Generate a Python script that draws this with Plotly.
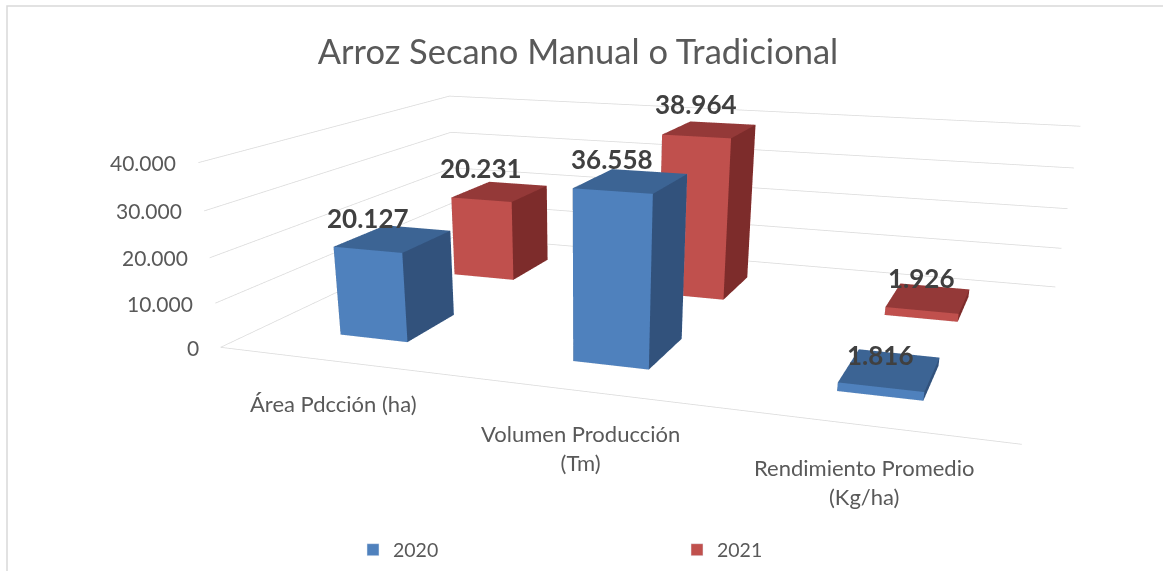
import plotly.graph_objects as go

# ---------------- data ----------------
categories = ["Área Pdcción (ha)", "Volumen Producción<br>(Tm)", "Rendimiento Promedio<br>(Kg/ha)"]
series_names = ["2020", "2021"]
values_2020 = [20127, 36558, 1816]
values_2021 = [20231, 38964, 1926]
tick_vals = [0, 10000, 20000, 30000, 40000]
tick_text = ["0", "10.000", "20.000", "30.000", "40.000"]

# ---------------- layout constants ----------------
W = 1163
HF = 1103  # tall canvas -> narrower perspective; only the top 571 px are shown
CAM_EYE = dict(x=2.2590, y=-7.5292, z=1.6741)
CAM_CENTER = dict(x=0.3881, y=-2.5393, z=-0.8758)
ASPECT = dict(x=4.2846, y=3.0280, z=1)

x_pos = [0, 1, 2]      # category slots
y_pos = [0, 1]         # series slots (depth)
hw, hd = 0.15, 0.2     # half width / half depth of a column

FONT = "Lato"
COLORS = {
    "2020": ("#4F81BD", "#32527C", "#3C6494"),
    "2021": ("#C0504D", "#7D2C2B", "#943938"),
}


def box_mesh(xs, y0, heights, c_front, c_side, c_top, name):
    X, Y, Z, I, J, K, FC = [], [], [], [], [], [], []
    for x0, h in zip(xs, heights):
        b = len(X)
        for zz in [0, h]:
            for yy in [y0 - hd, y0 + hd]:
                for xx in [x0 - hw, x0 + hw]:
                    X.append(xx); Y.append(yy); Z.append(zz)
        v = lambda ix, iy, iz: b + iz * 4 + iy * 2 + ix
        quads = [
            ((0, 0, 0), (1, 0, 0), (1, 0, 1), (0, 0, 1), c_front),
            ((0, 1, 0), (1, 1, 0), (1, 1, 1), (0, 1, 1), c_front),
            ((0, 0, 0), (0, 1, 0), (0, 1, 1), (0, 0, 1), c_side),
            ((1, 0, 0), (1, 1, 0), (1, 1, 1), (1, 0, 1), c_side),
            ((0, 0, 0), (1, 0, 0), (1, 1, 0), (0, 1, 0), c_top),
            ((0, 0, 1), (1, 0, 1), (1, 1, 1), (0, 1, 1), c_top),
        ]
        for a, bb, c, d, col in quads:
            A_, B_, C_, D_ = v(*a), v(*bb), v(*c), v(*d)
            I += [A_, A_]; J += [B_, C_]; K += [C_, D_]; FC += [col, col]
    return go.Mesh3d(x=X, y=Y, z=Z, i=I, j=J, k=K, facecolor=FC, flatshading=True,
                     lighting=dict(ambient=1, diffuse=0, specular=0, roughness=1, fresnel=0),
                     hoverinfo="skip", showlegend=False, name=name)


fig = go.Figure()
for name, yi, vals in zip(series_names, y_pos, [values_2020, values_2021]):
    fig.add_trace(box_mesh(x_pos, yi, vals, *COLORS[name], name))
# legend entries
for name in series_names:
    fig.add_trace(go.Bar(x=[None], y=[None], name=name, marker_color=COLORS[name][0]))


def fmt(v):
    return f"{v:,}".replace(",", ".")


ann = []
for yi, vals in zip(y_pos, [values_2020, values_2021]):
    for xi, v in zip(x_pos, vals):
        ann.append(dict(x=xi, y=yi - hd, z=v, text="<b>" + fmt(v) + "</b>", showarrow=False,
                        yanchor="bottom", yshift=14, font=dict(size=26, color="#404040", family=FONT)))
for xi, c in zip(x_pos, categories):
    ann.append(dict(x=xi, y=-0.5, z=0, text=c, showarrow=False, yanchor="top", yshift=-27,
                    font=dict(size=22, color="#595959", family=FONT)))
for tv, tt in zip(tick_vals, tick_text):
    ann.append(dict(x=-0.5, y=-0.5, z=tv, text=tt, showarrow=False, xanchor="right", xshift=-20,
                    yanchor="middle", font=dict(size=21, color="#595959", family=FONT)))

ax_common = dict(showbackground=False, showspikes=False, title=dict(text=""), zeroline=False)
fig.update_layout(
    width=W, height=HF, margin=dict(l=0, r=0, t=0, b=0),
    paper_bgcolor="white", plot_bgcolor="white", hovermode=False,
    title=dict(text="Arroz Secano Manual o Tradicional", x=0.497, xanchor="center",
               yref="container", y=1 - 52 / HF, yanchor="middle",
               font=dict(size=34.5, color="#595959", family=FONT)),
    xaxis=dict(visible=False), yaxis=dict(visible=False),
    legend=dict(orientation="h", x=353 / W, xanchor="left", y=1 - 550 / HF, yanchor="middle",
                entrywidth=279, entrywidthmode="pixels",
                font=dict(size=19.5, color="#595959", family=FONT),
                bgcolor="rgba(0,0,0,0)"),
    scene=dict(
        domain=dict(x=[0, 1], y=[0, 1]),
        aspectmode="manual", aspectratio=ASPECT,
        camera=dict(eye=CAM_EYE, center=CAM_CENTER, up=dict(x=0, y=0, z=1),
                    projection=dict(type="perspective")),
        xaxis=dict(range=[-0.5, 2.5], showgrid=False, showticklabels=False, ticks="",
                   showline=True, linecolor="#d9d9d9", linewidth=1.5, **ax_common),
        yaxis=dict(range=[-0.5, 1.5], showgrid=False, showticklabels=False, ticks="",
                   showline=False, **ax_common),
        zaxis=dict(range=[0, 40000], tickvals=tick_vals, showgrid=True, showticklabels=False,
                   gridcolor="#d9d9d9", gridwidth=1.5, ticks="", showline=False, **ax_common),
        annotations=ann,
    ),
    shapes=[dict(type="rect", xref="paper", yref="paper", x0=7 / W, x1=1.05, y0=-0.05, y1=1 - 6 / HF,
                 line=dict(color="#d9d9d9", width=1.5))],
)
fig.write_html("out.html", config={"displayModeBar": False},
               post_script="document.documentElement.style.overflow='hidden';"
                           "document.body.style.overflow='hidden';document.body.style.margin='0';")
